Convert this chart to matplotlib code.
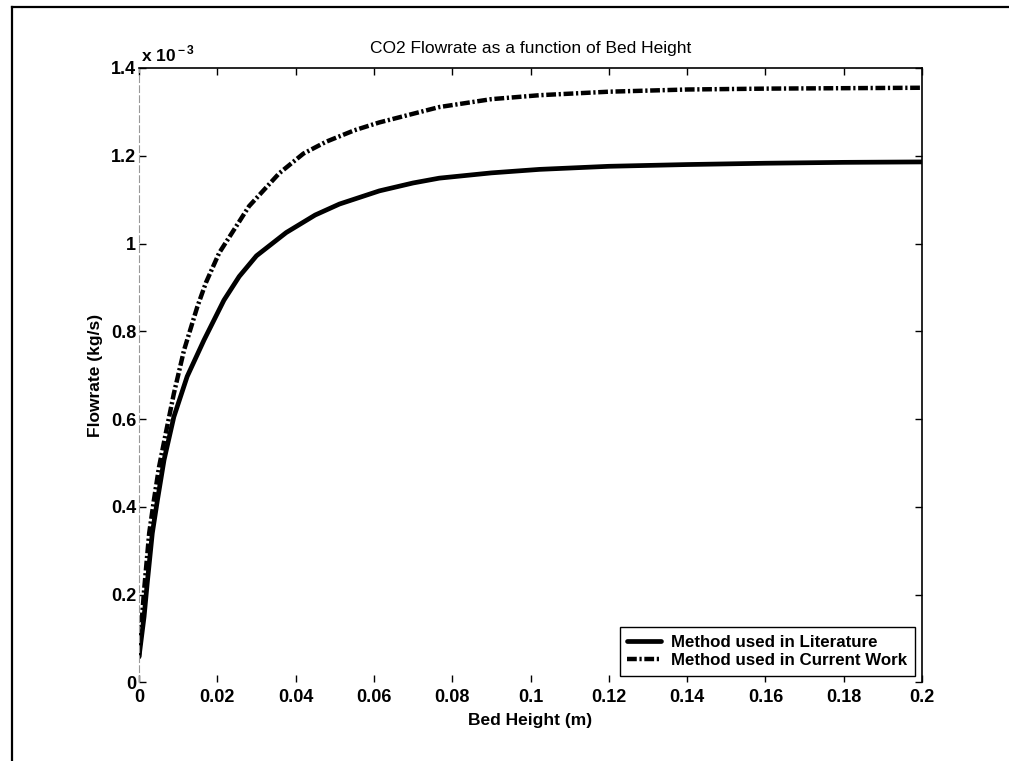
import matplotlib
matplotlib.use("Agg")
import matplotlib.pyplot as plt
from matplotlib.lines import Line2D
from matplotlib.ticker import FuncFormatter

# ---- data (flowrate in units of 1e-3 kg/s) ----
lit_x = [0, 0.0013, 0.0021, 0.0034, 0.0047, 0.0064, 0.0089, 0.0123, 0.0166, 0.0217,
         0.0256, 0.030, 0.0376, 0.045, 0.0512, 0.0614, 0.070, 0.0767, 0.090, 0.1023,
         0.12, 0.14, 0.16, 0.18, 0.2]
lit_y = [0.058, 0.15, 0.226, 0.34, 0.415, 0.507, 0.605, 0.697, 0.78, 0.871,
         0.925, 0.972, 1.025, 1.065, 1.090, 1.120, 1.138, 1.149, 1.161, 1.169,
         1.176, 1.180, 1.183, 1.185, 1.186]

cur_x = [0, 0.0013, 0.0026, 0.0038, 0.0051, 0.0068, 0.0089, 0.0115, 0.0149, 0.0171,
         0.0205, 0.0256, 0.0281, 0.0358, 0.042, 0.0478, 0.055, 0.0614, 0.0767, 0.090,
         0.1023, 0.12, 0.14, 0.16, 0.18, 0.2]
cur_y = [0.058, 0.21, 0.34, 0.415, 0.49, 0.566, 0.658, 0.757, 0.856, 0.911,
         0.979, 1.050, 1.085, 1.160, 1.205, 1.232, 1.258, 1.276, 1.311, 1.329,
         1.338, 1.346, 1.351, 1.353, 1.354, 1.355]

labels = ["Method used in Literature", "Method used in Current Work"]
title = "CO2 Flowrate as a function of Bed Height"
xlabel = "Bed Height (m)"
ylabel = "Flowrate (kg/s)"
xticks = [0, 0.02, 0.04, 0.06, 0.08, 0.1, 0.12, 0.14, 0.16, 0.18, 0.2]
yticks = [0, 0.2, 0.4, 0.6, 0.8, 1.0, 1.2, 1.4]

plt.rcParams['font.family'] = ['Liberation Sans', 'DejaVu Sans']
plt.rcParams['mathtext.fontset'] = 'custom'
plt.rcParams['mathtext.rm'] = 'Liberation Sans:bold'

W, H = 1009, 761
fig = plt.figure(figsize=(W / 100, H / 100), dpi=100)
ax = fig.add_axes([139 / W, 1 - 682.4 / H, (922 - 139) / W, (682.4 - 68) / H])

ax.plot(lit_x, lit_y, color='black', lw=3.4, solid_capstyle='round',
        solid_joinstyle='round', label=labels[0])
ax.plot(cur_x, cur_y, color='black', lw=3.2, linestyle=(0, (2.2, 0.6, 0.5, 0.6)),
        dash_joinstyle='round', label=labels[1])

ax.set_xlim(0, 0.2)
ax.set_ylim(0, 1.4)
ax.set_xticks(xticks)
ax.set_yticks(yticks)
fmt = FuncFormatter(lambda v, p: ('%g' % round(v, 4)))
ax.xaxis.set_major_formatter(fmt)
ax.yaxis.set_major_formatter(fmt)
ax.tick_params(direction='in', length=5, width=1, top=True, right=True,
               labelsize=13)
ax.tick_params(axis='x', pad=5)
ax.tick_params(axis='y', pad=2)
for lab in ax.get_xticklabels() + ax.get_yticklabels():
    lab.set_fontweight('bold')

ax.spines['left'].set_color('0.6')
ax.spines['left'].set_linewidth(0.8)
ax.spines['left'].set_linestyle((0, (6, 3)))
ax.spines['bottom'].set_visible(False)
ax.spines['top'].set_linewidth(1.2)
ax.spines['right'].set_linewidth(1.2)

ax.set_title(title, fontsize=12.5, pad=11)
ax.set_xlabel(xlabel, fontsize=12.5, fontweight='bold', labelpad=5)
ax.set_ylabel(ylabel, fontsize=12.5, fontweight='bold', labelpad=6)

ax.text(0.003, 1.006, r'x 10$^{\rm -3}$', transform=ax.transAxes, fontsize=12.5,
        fontweight='bold', ha='left', va='bottom')

leg = ax.legend(loc='lower right', prop={'weight': 'bold', 'size': 12.2},
                frameon=True, fancybox=False, framealpha=1, edgecolor='black',
                borderaxespad=0.4, borderpad=0.45, labelspacing=0.2,
                handlelength=2.0, handletextpad=0.6)
leg.get_frame().set_linewidth(1.0)

# outer frame (left and top border of the scanned figure)
fig.add_artist(Line2D([12 / W, 1], [1 - 7 / H, 1 - 7 / H], transform=fig.transFigure,
                      color='black', lw=1.6))
fig.add_artist(Line2D([12 / W, 12 / W], [0, 1 - 7 / H], transform=fig.transFigure,
                      color='black', lw=1.6))

fig.savefig('out.png', dpi=100)
